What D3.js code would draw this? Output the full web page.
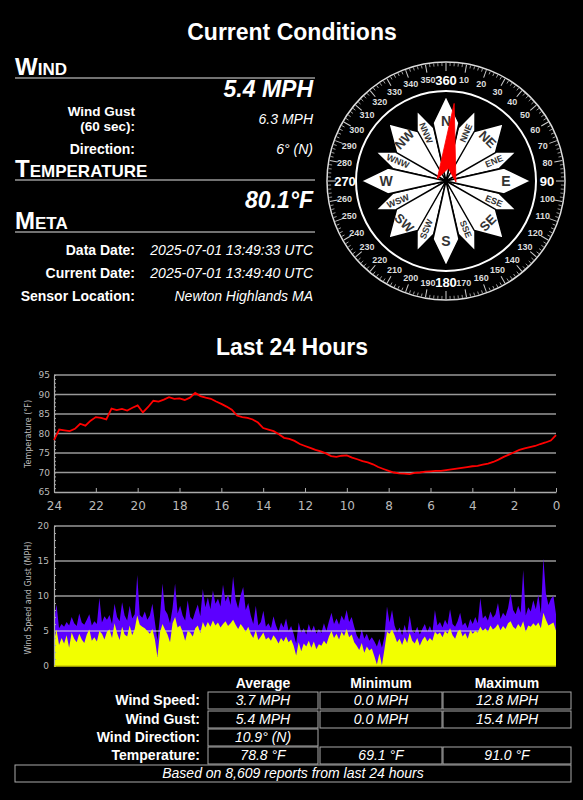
<!DOCTYPE html>
<html>
<head>
<meta charset="utf-8">
<script src="https://cdn.jsdelivr.net/npm/d3@7"></script>
<style>
  body { margin: 0; background: #000; }
  svg { display: block; font-family: "Liberation Sans", Arial, sans-serif; }
  .axis text { font-family: "DejaVu Sans", sans-serif; fill: #bbb; }
  .axis path, .axis line { stroke: #aaa; }
</style>
</head>
<body>
<div id="chart"></div>
<script>
// Page size
const width = 583;
const height = 800;

// Current conditions
const sectionTitles = ["Wind", "Temperature", "Meta"];
const windSpeedNow = "5.4 MPH";
const windGustNow = "6.3 MPH";
const windDirNow = 6;
const windDirText = "6° (N)";
const tempNow = "80.1°F";
const metaLabels = ["Data Date:", "Current Date:", "Sensor Location:"];
const metaValues = ["2025-07-01 13:49:33 UTC", "2025-07-01 13:49:40 UTC", "Newton Highlands MA"];

// Compass rose
const rosePoints = ["N", "NNE", "NE", "ENE", "E", "ESE", "SE", "SSE",
                    "S", "SSW", "SW", "WSW", "W", "WNW", "NW", "NNW"];
const degreeTicks = d3.range(10, 361, 10);
const majorDegrees = [90, 180, 270, 360];

// Last 24 hours: hours ago ticks
const hourTicks = [24, 22, 20, 18, 16, 14, 12, 10, 8, 6, 4, 2, 0];
const tempTicks = [65, 70, 75, 80, 85, 90, 95];
const windTicks = [0, 5, 10, 15, 20];

// Temperature every 15 min, from 24h ago to now (°F)
const tempValues = [
  78.3, 81.0, 80.8, 80.6, 81.2, 82.5, 82.0, 83.3, 84.2, 84.0, 83.6, 86.4,
  86.0, 86.3, 85.9, 86.6, 87.2, 85.4, 86.8, 88.4, 88.2, 88.7, 89.3, 88.9,
  89.0, 88.6, 89.2, 90.4, 89.6, 89.2, 88.9, 88.2, 87.6, 86.9, 86.1, 84.6,
  84.2, 84.0, 83.6, 82.8, 81.4, 81.0, 80.6, 79.8, 78.9, 78.6, 78.1, 77.3,
  76.8, 76.3, 75.8, 75.4, 74.9, 74.2, 74.0, 74.3, 74.4, 73.8, 73.4, 72.9,
  72.6, 72.1, 71.4, 70.9, 70.4, 70.0, 69.8, 69.7, 69.6, 69.9, 70.0, 70.2,
  70.3, 70.4, 70.4, 70.6, 70.8, 71.0, 71.2, 71.4, 71.6, 71.7, 72.0, 72.3,
  72.7, 73.3, 74.0, 74.6, 75.2, 75.8, 76.2, 76.5, 76.8, 77.3, 77.7, 78.2,
  79.6
];

// Wind gust (MPH), 24h ago to now
const windGust = [
  6.5, 8.8, 5.4, 6.0, 5.6, 6.3, 5.8, 7.0, 6.1, 5.7, 7.5, 6.2, 5.9, 6.6, 7.4, 5.8, 6.4, 6.0, 9.7,
  6.2, 7.1, 6.6, 7.3, 6.0, 8.9, 7.0, 6.4, 9.1, 7.2, 6.5, 8.6, 6.8, 7.4, 13.0,
  7.3, 6.9, 7.8, 6.6, 7.2, 8.9, 6.3, 3.6, 7.0, 11.8,
  8.0, 7.4, 6.1, 8.3, 11.8, 7.5, 8.6, 7.2, 6.5, 9.4, 7.0, 6.6, 7.8, 8.8, 7.1, 11.0,
  8.4, 9.8, 8.1, 10.8, 8.9, 9.6, 8.5, 11.6, 9.2, 10.2, 8.7, 12.8, 9.5, 8.2, 10.1, 11.3, 8.0, 9.0,
  7.2, 6.0, 8.6, 5.8, 6.3, 7.9, 5.6, 6.1, 5.4, 7.1, 5.8, 4.9, 6.2, 5.5, 6.8, 5.0, 5.7, 4.6, 3.2,
  6.2, 4.8, 5.4, 4.5, 6.0, 4.9, 5.8, 4.6, 5.3, 4.7, 6.1, 5.0,
  6.4, 7.6, 6.0, 6.8, 5.9, 7.2, 6.5, 8.0, 6.3, 7.0, 5.6,
  4.4, 3.8, 5.2, 3.9, 4.6, 3.6, 4.1, 3.5, 2.8, 3.9, 2.6, 4.2,
  8.5, 6.2, 8.0, 5.8,
  4.8, 5.5, 4.4, 5.9, 4.6, 7.2, 5.0, 4.7, 5.6, 4.5, 5.3, 6.0, 4.9, 5.7, 4.8, 8.0,
  5.8, 6.3, 5.5, 6.6, 5.9, 8.1, 6.0, 5.6, 6.4, 7.6, 5.8, 6.2, 5.4, 6.7, 6.0, 7.0, 6.1,
  9.7, 6.8, 7.2, 6.5, 7.8, 6.9, 7.4, 9.0, 6.7, 7.6, 7.1, 8.3, 10.4,
  8.0, 7.4, 8.6, 7.6, 13.7, 7.2, 8.4, 7.8, 9.4, 8.1, 10.2, 7.5, 15.4, 10.4, 8.7, 9.6, 10.0, 7.4
];

// Wind speed (MPH), 24h ago to now
const windSpeed = [
  3.6, 5.2, 3.0, 4.0, 3.2, 4.4, 2.6, 4.8, 3.9, 3.4, 4.6, 3.8, 3.3, 4.5, 5.2, 3.6, 4.1, 3.5, 5.0,
  4.6, 3.8, 4.9, 5.2, 4.0, 6.1, 4.7, 3.7, 5.6, 4.5, 4.2, 5.8, 4.4, 5.3, 7.2,
  5.9, 5.6, 5.4, 5.0, 4.6, 5.3, 3.8, 1.3, 4.8, 6.0,
  5.2, 4.5, 3.4, 6.1, 7.0, 5.5, 5.8, 4.9, 3.6, 5.0, 4.8, 4.2, 5.4, 5.8, 4.7, 6.3,
  5.5, 6.3, 5.6, 6.5, 5.8, 6.2, 5.5, 6.0, 6.4, 5.7, 6.1, 6.6, 5.9, 5.3, 6.0, 5.5, 4.9, 5.6,
  4.6, 4.0, 5.1, 3.7, 4.2, 4.8, 3.8, 4.1, 3.6, 4.4, 3.9, 3.2, 4.0, 3.5, 4.2, 3.4, 3.8, 2.9, 1.5,
  3.4, 2.1, 3.2, 2.8, 3.6, 2.6, 3.5, 2.4, 3.1, 2.9, 3.6, 3.1,
  4.2, 5.0, 4.0, 4.6, 3.8, 4.9, 4.3, 5.3, 4.1, 4.5, 3.4,
  2.9, 2.3, 3.3, 1.9, 2.8, 2.2, 2.5, 1.4, 0.2, 1.8, 0.1, 2.4,
  4.9, 4.6, 5.2, 4.4,
  3.4, 3.9, 3.0, 4.1, 3.3, 4.7, 3.6, 3.2, 4.0, 2.9, 3.7, 4.2, 3.5, 4.0, 3.6, 4.9,
  4.5, 4.8, 4.1, 5.0, 4.6, 5.4, 4.4, 3.9, 4.9, 5.2, 4.2, 4.7, 3.9, 5.1, 4.6, 5.0, 4.8,
  5.6, 5.0, 5.4, 4.9, 5.8, 5.2, 5.5, 6.0, 5.1, 5.7, 5.3, 6.1, 6.4,
  5.6, 5.3, 6.0, 5.5, 6.4, 4.9, 5.8, 5.6, 6.1, 5.7, 6.2, 5.4, 7.6, 6.6, 5.8, 6.0, 6.2, 5.0
];

// Summary table
const statHeaders = ["Average", "Minimum", "Maximum"];
const statLabels = ["Wind Speed:", "Wind Gust:", "Wind Direction:", "Temperature:"];
const statValues = [
  ["3.7 MPH", "0.0 MPH", "12.8 MPH"],
  ["5.4 MPH", "0.0 MPH", "15.4 MPH"],
  ["10.9° (N)"],
  ["78.8 °F", "69.1 °F", "91.0 °F"]
];
const reportNote = "Based on 8,609 reports from last 24 hours";

const svg = d3.select("#chart")
  .append("svg")
  .attr("width", width)
  .attr("height", height);

svg.append("rect").attr("width", width).attr("height", height).attr("fill", "#000");

function title(txt, y) {
  svg.append("text")
    .attr("x", 292).attr("y", y)
    .attr("text-anchor", "middle")
    .attr("fill", "#fff")
    .style("font-size", "23px").style("font-weight", "bold")
    .text(txt);
}

function heading(txt, y) {
  const t = svg.append("text").attr("x", 15).attr("y", y)
    .attr("fill", "#fff").style("font-weight", "bold");
  t.append("tspan").style("font-size", "24px").text(txt[0].toUpperCase());
  t.append("tspan").style("font-size", "17px").text(txt.slice(1).toUpperCase());
  svg.append("line")
    .attr("x1", 15).attr("x2", 315).attr("y1", y + 3).attr("y2", y + 3)
    .attr("stroke", "#999").attr("stroke-width", 1.5);
}

function label(txt, x, y, size) {
  return svg.append("text").attr("x", x).attr("y", y)
    .attr("text-anchor", "end").attr("fill", "#fff")
    .style("font-size", (size || 14) + "px").style("font-weight", "bold")
    .text(txt);
}

function value(txt, x, y, big) {
  svg.append("text").attr("x", x).attr("y", y)
    .attr("text-anchor", "end").attr("fill", "#fff")
    .style("font-size", big ? "23px" : "14px")
    .style("font-weight", big ? "bold" : "normal")
    .style("font-style", "italic")
    .text(txt);
}

// ---- Current conditions ----
title("Current Conditions", 40);

heading(sectionTitles[0], 75);
value(windSpeedNow, 313, 97, true);
label("Wind Gust", 135, 116, 13.5);
label("(60 sec):", 135, 131, 13.5);
value(windGustNow, 313, 124);
label("Direction:", 135, 154);
value(windDirText, 313, 154);

heading(sectionTitles[1], 177);
value(tempNow, 313, 208, true);

heading(sectionTitles[2], 229);
metaLabels.forEach((m, i) => {
  label(m, 135, 255 + i * 23);
  value(metaValues[i], 313, 255 + i * 23);
});

// ---- Compass ----
const cx = 446, cy = 181;
const compass = svg.append("g").attr("transform", `translate(${cx},${cy})`);

compass.append("circle").attr("r", 119)
  .attr("fill", "none").attr("stroke", "#ddd").attr("stroke-width", 1.5);

d3.range(0, 360, 2).forEach(a => {
  const long = a % 10 === 0;
  compass.append("line")
    .attr("y1", -118).attr("y2", long ? -110 : -115)
    .attr("transform", `rotate(${a})`)
    .attr("stroke", "#ccc").attr("stroke-width", long ? 1 : 0.7);
});

degreeTicks.forEach(d => {
  const major = majorDegrees.includes(d);
  const r = major ? 101 : 103;
  const rad = d * Math.PI / 180;
  compass.append("text")
    .attr("x", r * Math.sin(rad))
    .attr("y", -r * Math.cos(rad))
    .attr("dy", "0.35em")
    .attr("text-anchor", "middle")
    .attr("fill", major ? "#fff" : "#ddd")
    .style("font-size", major ? "13px" : "9px")
    .style("font-weight", "bold")
    .text(d);
});

compass.append("circle").attr("r", 90)
  .attr("fill", "none").attr("stroke", "#fff").attr("stroke-width", 2);

// petals: secondary first, then intercardinal, then cardinal
const petalShape = [
  { hw: 13, rw: 58, rt: 85, lr: 60, fs: 14 },  // cardinal
  { hw: 15, rw: 55, rt: 81, lr: 59, fs: 13 },  // intercardinal
  { hw: 9, rw: 54, rt: 76, lr: 52, fs: 9 }     // secondary
];
const order = [2, 1, 0];
order.forEach(kind => {
  rosePoints.forEach((p, i) => {
    const k = i % 4 === 0 ? 0 : (i % 2 === 0 ? 1 : 2);
    if (k !== kind) return;
    const a = i * 22.5;
    const s = petalShape[k];
    compass.append("path")
      .attr("d", `M0,0L${s.hw},${-s.rw}L0,${-s.rt}L${-s.hw},${-s.rw}Z`)
      .attr("transform", `rotate(${a})`)
      .attr("fill", "#fff")
      .attr("stroke", "#000").attr("stroke-width", 1.5)
      .attr("stroke-linejoin", "round");
  });
});

rosePoints.forEach((p, i) => {
  const k = i % 4 === 0 ? 0 : (i % 2 === 0 ? 1 : 2);
  const a = i * 22.5;
  const s = petalShape[k];
  const rad = a * Math.PI / 180;
  let rot = 0;
  if (k === 1) rot = ((a + 90) % 180) - 90;
  if (k === 2) rot = (a % 180) - 90;
  compass.append("text")
    .attr("transform", `translate(${s.lr * Math.sin(rad)},${-s.lr * Math.cos(rad)}) rotate(${rot})`)
    .attr("dy", "0.36em")
    .attr("text-anchor", "middle")
    .attr("fill", "#333")
    .style("font-size", s.fs + "px")
    .style("font-weight", "bold")
    .text(p);
});

// needle
compass.append("path")
  .attr("d", "M0,-78L10,0L1,-13L-9,-1Z")
  .attr("transform", `rotate(${windDirNow})`)
  .attr("fill", "#f00")
  .attr("stroke", "#f00").attr("stroke-width", 0.8);

// ---- Last 24 hours ----
title("Last 24 Hours", 355);

const x = d3.scaleLinear().domain([24, 0]).range([54, 556]);
const yT = d3.scaleLinear().domain([65, 95]).range([492, 375]);
const yW = d3.scaleLinear().domain([0, 20]).range([666, 526]);

// temperature grid
svg.append("g")
  .selectAll("line")
  .data(tempTicks.slice(1))
  .enter()
  .append("line")
  .attr("x1", 54).attr("x2", 556)
  .attr("y1", d => yT(d)).attr("y2", d => yT(d))
  .attr("stroke", "#999").attr("stroke-width", 1.5);

// minor ticks on left
svg.append("g").attr("class", "axis")
  .attr("transform", "translate(54,0)")
  .call(d3.axisRight(yT).ticks(30).tickSize(2).tickFormat(""))
  .call(g => g.select(".domain").remove());

svg.append("g").attr("class", "axis")
  .attr("transform", "translate(54,0)")
  .call(d3.axisLeft(yT).tickValues(tempTicks).tickSize(0).tickPadding(4))
  .call(g => g.selectAll("text").style("font-size", "9px"))
  .call(g => g.select(".domain").attr("stroke-width", 1.2));

svg.append("g").attr("class", "axis")
  .attr("transform", "translate(0,492)")
  .call(d3.axisBottom(x).tickValues(hourTicks).tickSizeInner(-4).tickSizeOuter(0).tickPadding(9))
  .call(g => g.selectAll("text").style("font-size", "12px"))
  .call(g => g.select(".domain").attr("stroke-width", 1.5));

svg.append("text")
  .attr("transform", "translate(31,434) rotate(-90)")
  .attr("text-anchor", "middle")
  .attr("fill", "#bbb")
  .style("font-family", "DejaVu Sans")
  .style("font-size", "8px")
  .text("Temperature (°F)");

const tempLine = d3.line()
  .x((d, i) => x(24 - i * 0.25))
  .y(d => yT(d));

svg.append("path")
  .datum(tempValues)
  .attr("d", tempLine)
  .attr("fill", "none")
  .attr("stroke", "#f00")
  .attr("stroke-width", 1.8);

// wind grid
svg.append("g")
  .selectAll("line")
  .data([10, 15, 20])
  .enter()
  .append("line")
  .attr("x1", 54).attr("x2", 556)
  .attr("y1", d => yW(d)).attr("y2", d => yW(d))
  .attr("stroke", "#999").attr("stroke-width", 1.5);

const nW = windGust.length;
const windX = i => x(24 - 24 * i / (nW - 1));

const windArea = d3.area()
  .x((d, i) => windX(i))
  .y0(yW(0))
  .y1(d => yW(d));

svg.append("path")
  .datum(windGust)
  .attr("d", windArea)
  .attr("fill", "#5c00ff");

svg.append("line")
  .attr("x1", 54).attr("x2", 556)
  .attr("y1", yW(5)).attr("y2", yW(5))
  .attr("stroke", "#ddd").attr("stroke-width", 1);

svg.append("path")
  .datum(windSpeed)
  .attr("d", windArea)
  .attr("fill", "#f2ff00");

svg.append("g").attr("class", "axis")
  .attr("transform", "translate(54,0)")
  .call(d3.axisRight(yW).ticks(20).tickSize(2).tickFormat(""))
  .call(g => g.select(".domain").remove());

svg.append("g").attr("class", "axis")
  .attr("transform", "translate(54,0)")
  .call(d3.axisLeft(yW).tickValues(windTicks).tickSize(0).tickPadding(5))
  .call(g => g.selectAll("text").style("font-size", "9px"))
  .call(g => g.select(".domain").attr("stroke-width", 1.2));

svg.append("line")
  .attr("x1", 54).attr("x2", 556)
  .attr("y1", 666).attr("y2", 666)
  .attr("stroke", "#cc0").attr("stroke-width", 1.5);

svg.append("text")
  .attr("transform", "translate(31,598) rotate(-90)")
  .attr("text-anchor", "middle")
  .attr("fill", "#bbb")
  .style("font-family", "DejaVu Sans")
  .style("font-size", "8px")
  .text("Wind Speed and Gust (MPH)");

// ---- Summary table ----
const colX = [208, 320, 443];
const colW = [110, 122, 128];
const rowY = [692, 711, 729, 747];

statHeaders.forEach((h, j) => {
  svg.append("text")
    .attr("x", colX[j] + colW[j] / 2).attr("y", 688)
    .attr("text-anchor", "middle").attr("fill", "#fff")
    .style("font-size", "14px").style("font-weight", "bold")
    .text(h);
});

statLabels.forEach((l, i) => {
  label(l, 200, rowY[i] + 13);
  statValues[i].forEach((v, j) => {
    svg.append("rect")
      .attr("x", colX[j]).attr("y", rowY[i])
      .attr("width", colW[j]).attr("height", 17)
      .attr("fill", "none").attr("stroke", "#aaa").attr("stroke-width", 1);
    svg.append("text")
      .attr("x", colX[j] + colW[j] / 2).attr("y", rowY[i] + 13)
      .attr("text-anchor", "middle").attr("fill", "#fff")
      .style("font-size", "14px").style("font-style", "italic")
      .text(v);
  });
});

svg.append("rect")
  .attr("x", 15).attr("y", 765)
  .attr("width", 556).attr("height", 17)
  .attr("fill", "none").attr("stroke", "#aaa").attr("stroke-width", 1);
svg.append("text")
  .attr("x", 293).attr("y", 778)
  .attr("text-anchor", "middle").attr("fill", "#fff")
  .style("font-size", "14px").style("font-style", "italic")
  .text(reportNote);
</script>
</body>
</html>
